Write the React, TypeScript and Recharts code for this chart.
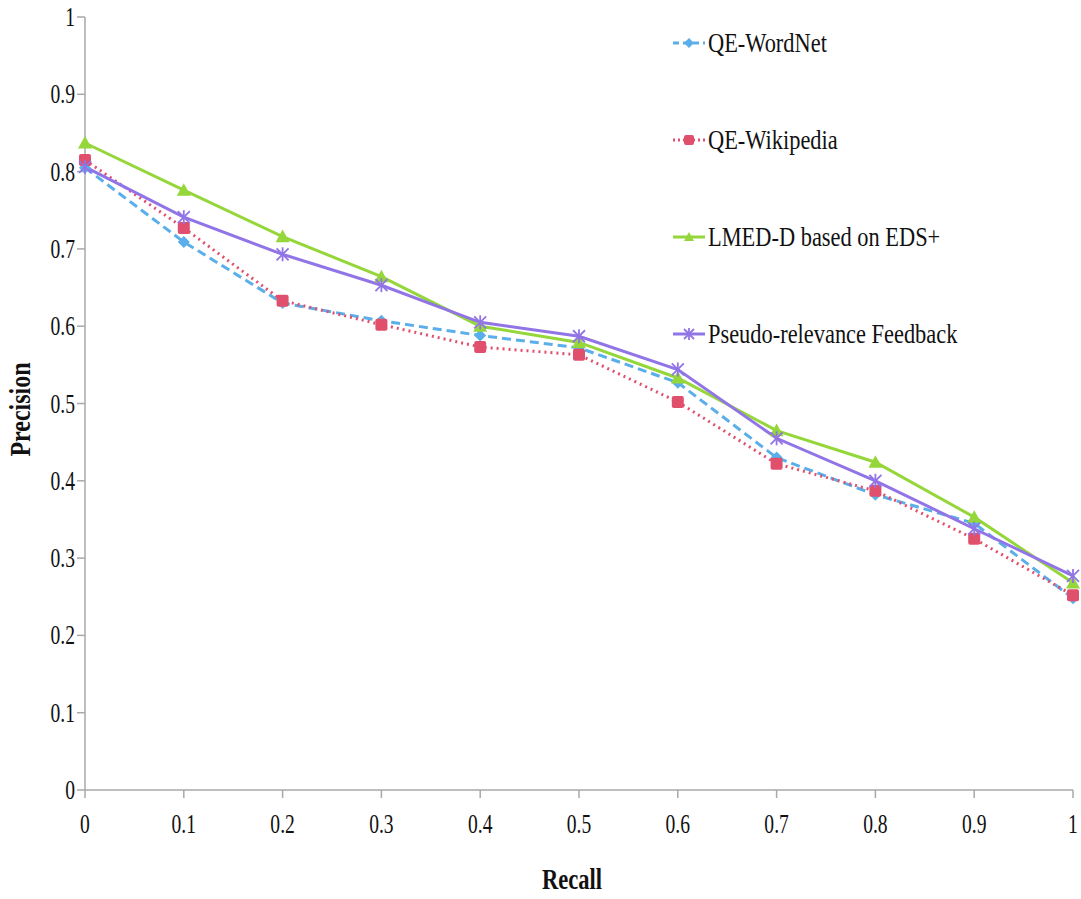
import React from 'react';
import { LineChart, Line, XAxis, YAxis, Legend, Label } from 'recharts';

const recall = [0, 0.1, 0.2, 0.3, 0.4, 0.5, 0.6, 0.7, 0.8, 0.9, 1];
const wordnet = [0.805, 0.709, 0.63, 0.607, 0.588, 0.572, 0.527, 0.43, 0.382, 0.345, 0.248];
const wikipedia = [0.815, 0.727, 0.633, 0.602, 0.573, 0.563, 0.502, 0.422, 0.387, 0.325, 0.252];
const lmed = [0.837, 0.776, 0.716, 0.664, 0.6, 0.579, 0.533, 0.465, 0.424, 0.353, 0.268];
const pseudo = [0.806, 0.741, 0.693, 0.653, 0.605, 0.587, 0.544, 0.455, 0.4, 0.338, 0.277];
const yTicks = [0, 0.1, 0.2, 0.3, 0.4, 0.5, 0.6, 0.7, 0.8, 0.9, 1];

const data = recall.map((r, i) => ({
  recall: r,
  wordnet: wordnet[i],
  wikipedia: wikipedia[i],
  lmed: lmed[i],
  pseudo: pseudo[i],
}));

const BLUE = '#5aaeea';
const PINK = '#e0506c';
const GREEN = '#95d63a';
const PURPLE = '#9174e6';
const FONT = '"Liberation Serif", "Times New Roman", serif';

function Diamond({ cx, cy, s = 6 }: any) {
  return <polygon points={`${cx},${cy - s} ${cx + s},${cy} ${cx},${cy + s} ${cx - s},${cy}`} fill={BLUE} />;
}
function Square({ cx, cy, s = 6 }: any) {
  return <rect x={cx - s} y={cy - s} width={s * 2} height={s * 2} rx={2} fill={PINK} />;
}
function Triangle({ cx, cy, s = 7 }: any) {
  return <polygon points={`${cx},${cy - s} ${cx + s},${cy + s * 0.8} ${cx - s},${cy + s * 0.8}`} fill={GREEN} />;
}
function Star({ cx, cy, s = 6 }: any) {
  return (
    <g stroke={PURPLE} strokeWidth={1.8}>
      <line x1={cx - s} y1={cy - s} x2={cx + s} y2={cy + s} />
      <line x1={cx - s} y1={cy + s} x2={cx + s} y2={cy - s} />
      <line x1={cx} y1={cy - s - 1} x2={cx} y2={cy + s + 1} />
    </g>
  );
}

const series = [
  { key: 'wordnet', name: 'QE-WordNet', color: BLUE, dash: '9 5', Shape: Diamond },
  { key: 'wikipedia', name: 'QE-Wikipedia', color: PINK, dash: '2 4', Shape: Square },
  { key: 'lmed', name: 'LMED-D based on EDS+', color: GREEN, dash: undefined, Shape: Triangle },
  { key: 'pseudo', name: 'Pseudo-relevance Feedback', color: PURPLE, dash: undefined, Shape: Star },
];

function XTick({ x, y, payload }: any) {
  return (
    <g transform={`translate(${x},${y + 33}) scale(0.7,1)`}>
      <text x={0} y={0} textAnchor="middle" fontFamily={FONT} fontSize={28} fill="#111">
        {payload.value}
      </text>
    </g>
  );
}

function YTick({ x, y, payload }: any) {
  return (
    <g transform={`translate(${x},${y + 9}) scale(0.7,1)`}>
      <text x={0} y={0} textAnchor="end" fontFamily={FONT} fontSize={28} fill="#111">
        {payload.value}
      </text>
    </g>
  );
}

function renderLegend() {
  return (
    <div style={{ fontFamily: FONT }}>
      {series.map((s) => (
        <div key={s.key} style={{ height: 97, display: 'flex', alignItems: 'flex-start' }}>
          <svg width={34} height={30} style={{ flex: 'none' }}>
            <line x1={1} y1={15} x2={33} y2={15} stroke={s.color} strokeWidth={3} strokeDasharray={s.dash ? (s.key === 'wikipedia' ? '2 3' : '6 4') : undefined} />
            <s.Shape cx={17} cy={15} s={5} />
          </svg>
          <span
            style={{
              fontFamily: FONT,
              fontSize: 28,
              color: '#111',
              lineHeight: '30px',
              whiteSpace: 'nowrap',
              display: 'inline-block',
              transform: 'scaleX(0.8)',
              transformOrigin: 'left center',
              marginLeft: 2,
            }}
          >
            {s.name}
          </span>
        </div>
      ))}
    </div>
  );
}

export default function App() {
  return (
    <div style={{ position: 'absolute', left: 0, top: 0, background: '#fff' }}>
      <LineChart width={1081} height={899} data={data} margin={{ top: 17, right: 8, bottom: 0, left: 0 }}>
        <XAxis
          dataKey="recall"
          type="number"
          domain={[0, 1]}
          ticks={recall}
          height={109}
          stroke="#a8a8a8"
          strokeWidth={1.5}
          tickSize={8}
          tick={<XTick />}
          interval={0}
        >
          <Label
            content={({ viewBox }: any) => (
              <g transform={`translate(${viewBox.x + viewBox.width / 2 - 7},${viewBox.y + 99}) scale(0.75,1)`}>
                <text textAnchor="middle" fontFamily={FONT} fontWeight="bold" fontSize={30} fill="#111">
                  Recall
                </text>
              </g>
            )}
          />
        </XAxis>
        <YAxis
          type="number"
          domain={[0, 1]}
          ticks={yTicks}
          width={85}
          stroke="#a8a8a8"
          strokeWidth={1.5}
          tickSize={8}
          tickMargin={2}
          tick={<YTick />}
          interval={0}
        >
          <Label
            content={({ viewBox }: any) => (
              <g transform={`translate(${viewBox.x + 30},${viewBox.y + viewBox.height / 2 + 6}) rotate(-90) scale(0.8,1)`}>
                <text textAnchor="middle" fontFamily={FONT} fontWeight="bold" fontSize={30} fill="#111">
                  Precision
                </text>
              </g>
            )}
          />
        </YAxis>
        <Legend
          layout="vertical"
          verticalAlign="middle"
          align="center"
          content={renderLegend}
          wrapperStyle={{ left: 672, top: 28, width: 400 }}
        />
        {series.map((s) => (
          <Line
            key={s.key}
            type="linear"
            dataKey={s.key}
            name={s.name}
            stroke={s.color}
            strokeWidth={3}
            strokeDasharray={s.dash}
            isAnimationActive={false}
            dot={(p: any) => <s.Shape key={`${s.key}-${p.index}`} cx={p.cx} cy={p.cy} />}
            activeDot={false}
          />
        ))}
      </LineChart>
    </div>
  );
}
